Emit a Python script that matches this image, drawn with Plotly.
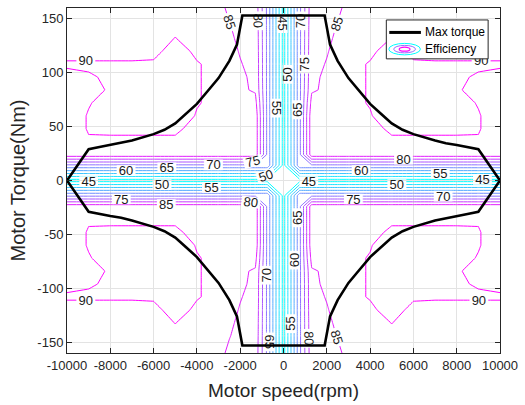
import numpy as np
import plotly.graph_objects as go

# ---- efficiency map, one quadrant (speed >= 0, torque >= 0), mirrored to all four ----
speed_q = [0, 750, 1300, 2000, 2500, 3000, 4000, 5000, 6000, 7000, 8000, 9000, 10000]
torque_q = [0, 14, 24, 36, 48, 60, 72, 84, 96, 108, 120, 132, 144, 160]
eff_q = [
    [43, 43, 43, 43, 43, 43, 43, 43, 43, 43, 43, 43, 43],
    [43, 69, 69, 69, 69, 69, 69, 69, 69, 69, 69, 69, 69],
    [43, 69, 88, 88, 88, 88, 88, 88, 88, 88, 88, 88, 88],
    [43, 69, 88, 88, 88, 88, 88, 88, 88, 88, 88, 89.5, 88],
    [43, 69, 88, 88, 88, 88, 86.5, 92, 92, 92, 92, 90.4, 87],
    [43, 69, 88, 88, 88, 88.5, 89.7, 92.5, 92.5, 92.5, 92.5, 90.4, 87],
    [43, 69, 86.5, 88, 88, 89, 90.25, 92.5, 92.5, 92.5, 92, 89.65, 87],
    [43, 69, 84.5, 85.67, 88, 89, 90.25, 92, 92, 92, 90.5, 88.5, 87],
    [43, 69, 84, 85.8, 88, 89, 90.25, 92, 92, 92, 91, 89.3, 89],
    [43, 69, 84, 85.17, 88, 89, 90.25, 91, 90.5, 90.5, 90.5, 91.1, 90.5],
    [43, 69, 83.8, 84.8, 85.9, 88.5, 89.3, 91.5, 89, 88.5, 88.5, 86.7, 88.5],
    [43, 69, 83.6, 84.5, 85.43, 88, 88, 90.1, 88.1, 88, 88, 88, 88],
    [43, 69, 83.4, 84.3, 85.1, 88, 88, 89, 88, 88, 88, 88, 87.5],
    [43, 69, 83, 84, 84.6, 85.6, 87, 88, 88, 88, 88, 88, 87],
]
levels = dict(start=45, end=90, size=5)

# ---- max torque envelope (speed >= 0), mirrored ----
mt_speed = [0, 1900, 2150, 2300, 2500, 3000, 3500, 4000, 4500, 5000, 5500, 6000,
            7000, 7500, 8000, 8500, 9000, 10000]
mt_torque = [153, 153, 126, 119, 111, 95, 83, 71, 62, 53, 47, 43,
             37, 34.5, 33, 31, 29, 0]

x_ticks = [-10000, -8000, -6000, -4000, -2000, 0, 2000, 4000, 6000, 8000, 10000]
y_ticks = [-150, -100, -50, 0, 50, 100, 150]

# build full mirrored grid
Zq = np.array(eff_q, dtype=float)
Zh = np.vstack([Zq[:0:-1], Zq])
Z = np.hstack([Zh[:, :0:-1], Zh])
spd_full = [-s for s in speed_q[:0:-1]] + speed_q
trq_full = [-t for t in torque_q[:0:-1]] + torque_q

up_x = [-s for s in mt_speed[::-1]] + mt_speed[1:]
up_y = mt_torque[::-1] + mt_torque[1:]
env_x = up_x + up_x[::-1][1:]
env_y = up_y + [-v for v in up_y[::-1][1:]]

FONT = "Liberation Sans, Arial, Helvetica, sans-serif"

fig = go.Figure()
fig.add_trace(go.Contour(
    x=spd_full, y=trq_full, z=Z,
    contours=dict(start=levels["start"], end=levels["end"], size=levels["size"],
                  coloring="lines", showlabels=True,
                  labelfont=dict(size=13, color="#1a1a1a", family=FONT)),
    colorscale=[[0, "rgb(0,255,255)"], [1, "rgb(255,0,255)"]],
    zauto=False, zmin=45, zmax=90,
    line=dict(width=1, smoothing=0), showscale=False, hoverinfo="skip",
))
fig.add_trace(go.Scatter(x=env_x, y=env_y, mode="lines",
                         line=dict(color="black", width=2.6), hoverinfo="skip"))

L, R, T, B = 67, 505, 7, 353
W, H = 525, 405


def px(x):
    return (x - L) / (R - L)


def py(y):
    return (B - y) / (B - T)


shapes = [
    dict(type="rect", xref="paper", yref="paper", x0=px(390), x1=px(493), y0=py(58), y1=py(19),
         line=dict(color="#262626", width=1), fillcolor="white", layer="above"),
    dict(type="line", xref="paper", yref="paper", x0=px(393), x1=px(425), y0=py(31.5), y1=py(31.5),
         line=dict(color="black", width=3), layer="above"),
    dict(type="circle", xref="paper", yref="paper", x0=px(392.5), x1=px(424.5), y0=py(54), y1=py(42.5),
         line=dict(color="rgb(0,255,255)", width=1), layer="above"),
    dict(type="circle", xref="paper", yref="paper", x0=px(397.5), x1=px(419.5), y0=py(52), y1=py(44.5),
         line=dict(color="rgb(150,110,255)", width=1), layer="above"),
    dict(type="circle", xref="paper", yref="paper", x0=px(403), x1=px(414), y0=py(50.2), y1=py(46.3),
         line=dict(color="rgb(255,0,255)", width=1.2), layer="above"),
]
annotations = [
    dict(x=px(427), y=py(31.5), xref="paper", yref="paper", text="Max torque", showarrow=False,
         xanchor="left", yanchor="middle", font=dict(size=12, color="black", family=FONT)),
    dict(x=px(427), y=py(48.5), xref="paper", yref="paper", text="Efficiency", showarrow=False,
         xanchor="left", yanchor="middle", font=dict(size=12, color="black", family=FONT)),
]

axis_common = dict(showline=True, linecolor="#262626", linewidth=1, mirror="ticks",
                   ticks="inside", ticklen=5, tickcolor="#262626",
                   showgrid=True, gridcolor="#e3e3e3", gridwidth=1, zeroline=False,
                   tickfont=dict(size=13, color="#262626", family=FONT))

fig.update_layout(
    width=W, height=H,
    margin=dict(l=L, r=W - R, t=T, b=H - B),
    paper_bgcolor="white", plot_bgcolor="white",
    showlegend=False,
    font=dict(family=FONT),
    xaxis=dict(range=[-10000, 10000], tickvals=x_ticks, ticktext=[str(v) for v in x_ticks],
               title=dict(text="Motor speed(rpm)", font=dict(size=19, color="#262626", family=FONT),
                          standoff=12),
               **axis_common),
    yaxis=dict(range=[-160, 160], tickvals=y_ticks, ticktext=[str(v) for v in y_ticks],
               title=dict(text="Motor Torque(Nm)", font=dict(size=20, color="#262626", family=FONT),
                          standoff=6),
               **axis_common),
    shapes=shapes, annotations=annotations,
)

fig.write_html("out.html")
